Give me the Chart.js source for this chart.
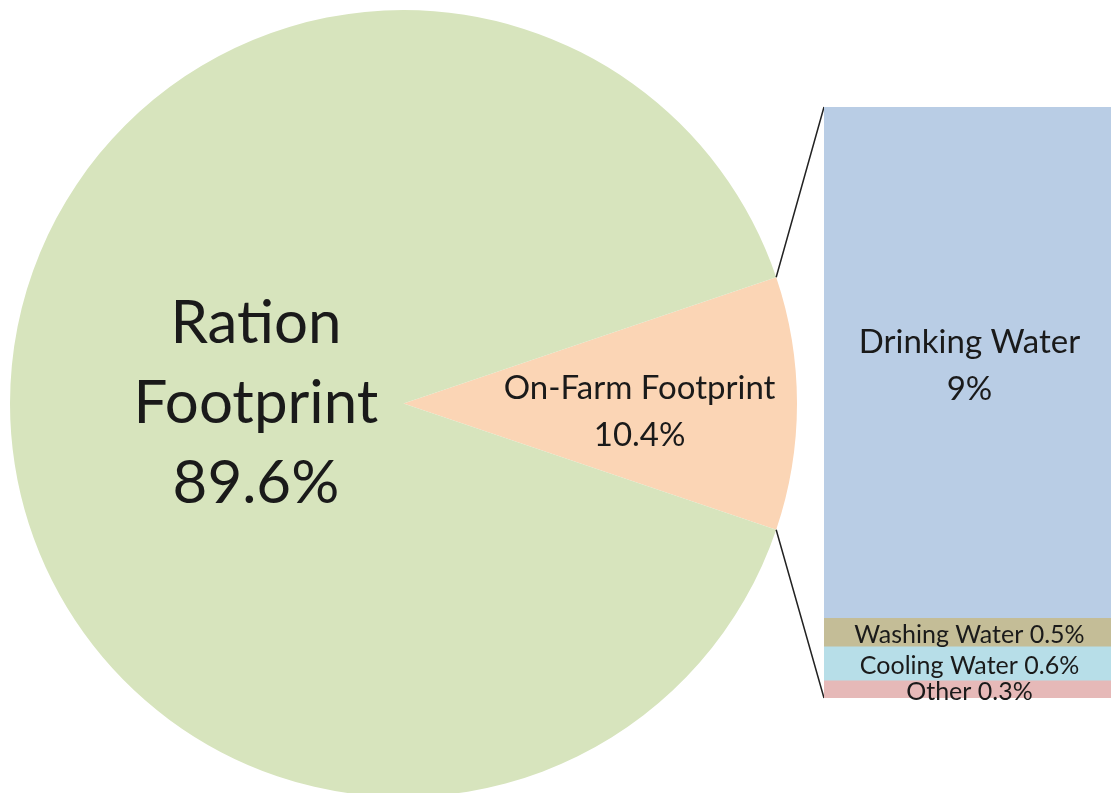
<!DOCTYPE html>
<html>
<head>
<meta charset="utf-8">
<script src="https://cdn.jsdelivr.net/npm/chart.js@4/dist/chart.umd.min.js"></script>
<style>
  html, body { margin: 0; padding: 0; background: #fff; overflow: hidden; }
  #wrap { position: relative; width: 1111px; height: 793px; overflow: hidden; }
  #pie { position: absolute; left: 0; top: 0; }
  #bar { position: absolute; left: 824px; top: 0; }
</style>
</head>
<body>
<div id="wrap">
  <canvas id="pie" width="1111" height="800"></canvas>
  <canvas id="bar" width="287" height="800"></canvas>
</div>
<script>
// pie: on-farm slice first so it sits on the right
const pieLabels = ['On-Farm Footprint', 'Ration Footprint'];
const pieValues = [10.4, 89.6];
const pieColors = ['#fbd5b5', '#d7e4bd'];
const pieTextLines = [['On-Farm Footprint'], ['Ration', 'Footprint']];

// breakdown of the on-farm slice, bottom to top
const barLabels = ['Other', 'Cooling Water', 'Washing Water', 'Drinking Water'];
const barValues = [0.3, 0.6, 0.5, 9];
const barColors = ['#e6b9b8', '#b7dee8', '#c4bd97', '#b9cde5'];

const FONT = 'Lato, "Open Sans", sans-serif';
const TEXT = '#1a1a1a';

function drawLines(ctx, lines, cx, cy, size, gap) {
  ctx.save();
  ctx.fillStyle = TEXT;
  ctx.font = size + 'px ' + FONT;
  ctx.textAlign = 'center';
  ctx.textBaseline = 'middle';
  const top = cy - (lines.length - 1) * gap / 2;
  lines.forEach((t, i) => ctx.fillText(t, cx, top + i * gap));
  ctx.restore();
}

const barText = {
  id: 'barText',
  afterDatasetsDraw(chart) {
    const ctx = chart.ctx;
    chart.data.datasets.forEach((ds, i) => {
      const el = chart.getDatasetMeta(i).data[0];
      const { x, y, base } = el.getProps(['x', 'y', 'base'], true);
      const cy = (y + base) / 2;
      if (barValues[i] >= 5) {
        drawLines(ctx, [barLabels[i], barValues[i] + '%'], x + 2, cy + 3, 33, 47);
      } else {
        drawLines(ctx, [barLabels[i] + ' ' + barValues[i] + '%'], x + 2, cy + 2, 25, 0);
      }
    });
  }
};

const barChart = new Chart(document.getElementById('bar'), {
  type: 'bar',
  data: {
    labels: ['On-Farm'],
    datasets: barLabels.map((l, i) => ({
      label: l,
      data: [barValues[i]],
      backgroundColor: barColors[i],
      borderWidth: 0,
      barPercentage: 1,
      categoryPercentage: 1
    }))
  },
  options: {
    responsive: false,
    animation: false,
    layout: { padding: { top: 107, bottom: 102, left: 0, right: 0 } },
    scales: {
      x: { stacked: true, display: false },
      y: { stacked: true, display: false, min: 0, max: barValues.reduce((a, b) => a + b, 0) }
    },
    plugins: { legend: { display: false }, tooltip: { enabled: false } }
  },
  plugins: [barText]
});

const pieText = {
  id: 'pieText',
  afterDatasetsDraw(chart) {
    const ctx = chart.ctx;
    chart.getDatasetMeta(0).data.forEach((arc, i) => {
      const p = arc.getProps(['x', 'y', 'startAngle', 'endAngle', 'outerRadius'], true);
      const mid = (p.startAngle + p.endAngle) / 2;
      const lines = pieTextLines[i].concat(pieValues[i] + '%');
      if (i === 0) {
        const r = p.outerRadius * 0.6;
        drawLines(ctx, lines, p.x + Math.cos(mid) * r, p.y + Math.sin(mid) * r + 8, 33, 47);
      } else {
        const r = p.outerRadius * 0.375;
        drawLines(ctx, lines, p.x + Math.cos(mid) * r, p.y + Math.sin(mid) * r, 60, 80);
      }
    });
  }
};

// lines from the on-farm slice edges to the breakdown bar
const connectors = {
  id: 'connectors',
  afterDraw(chart) {
    const ctx = chart.ctx;
    const arc = chart.getDatasetMeta(0).data[0].getProps(['x', 'y', 'startAngle', 'endAngle', 'outerRadius'], true);
    const off = barChart.canvas.offsetLeft;
    const topBar = barChart.getDatasetMeta(barValues.length - 1).data[0].getProps(['x', 'y', 'width'], true);
    const botBar = barChart.getDatasetMeta(0).data[0].getProps(['x', 'base', 'width'], true);
    ctx.save();
    ctx.strokeStyle = '#222';
    ctx.lineWidth = 1.5;
    ctx.beginPath();
    ctx.moveTo(arc.x + Math.cos(arc.startAngle) * arc.outerRadius, arc.y + Math.sin(arc.startAngle) * arc.outerRadius);
    ctx.lineTo(off + topBar.x - topBar.width / 2, topBar.y);
    ctx.moveTo(arc.x + Math.cos(arc.endAngle) * arc.outerRadius, arc.y + Math.sin(arc.endAngle) * arc.outerRadius);
    ctx.lineTo(off + botBar.x - botBar.width / 2, botBar.base);
    ctx.stroke();
    ctx.restore();
  }
};

const total = pieValues.reduce((a, b) => a + b, 0);

new Chart(document.getElementById('pie'), {
  type: 'pie',
  data: {
    labels: pieLabels,
    datasets: [{
      data: pieValues,
      backgroundColor: pieColors,
      borderWidth: 0
    }]
  },
  options: {
    responsive: false,
    animation: false,
    rotation: 90 - (pieValues[0] / total) * 180,
    layout: { padding: { left: 10, top: 10, right: 314, bottom: 3 } },
    plugins: { legend: { display: false }, tooltip: { enabled: false } }
  },
  plugins: [pieText, connectors]
});
</script>
</body>
</html>
